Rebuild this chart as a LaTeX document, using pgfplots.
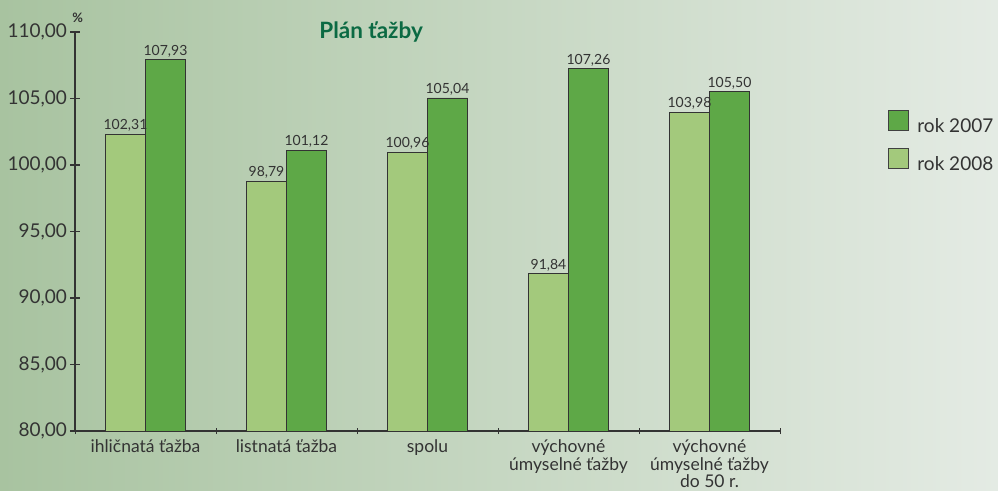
\documentclass[border=0pt]{standalone}
\usepackage{fontspec}
\setmainfont{Lato}
\usepackage{pgfplots}
\pgfplotsset{compat=1.18}

\definecolor{bgleft}{RGB}{168,195,160}
\definecolor{bgright}{RGB}{228,235,228}
\definecolor{lightbar}{HTML}{A3C97C}
\definecolor{darkbar}{HTML}{5EA847}
\definecolor{titlegreen}{HTML}{0B6A43}
\definecolor{txt}{HTML}{333333}

\begin{document}
\begin{tikzpicture}
\fill[left color=bgleft, right color=bgright] (0,0) rectangle (998pt,490pt);
\useasboundingbox (0,0) rectangle (998pt,490pt);
\begin{axis}[
  at={(75pt,59pt)}, anchor=south west,
  scale only axis, width=705pt, height=399pt,
  clip=false,
  ybar=0pt, bar width=40pt,
  xmin=-0.5, xmax=4.5, ymin=80, ymax=110,
  xtick={0,1,2,3,4},
  xticklabels={ihličnatá ťažba, listnatá ťažba, spolu,
    výchovné\\úmyselné ťažby, výchovné\\úmyselné ťažby\\do 50 r.},
  minor xtick={-0.5,0.5,1.5,2.5,3.5,4.5},
  ytick={80,85,90,95,100,105,110},
  axis x line=bottom, axis y line=left,
  axis line style={-, txt, line width=1.2pt},
  tick align=center, major tick length=9pt, minor tick length=6pt,
  x tick style={draw=none}, minor x tick style={draw=txt, line width=0.8pt},
  y tick style={draw=txt, line width=1.2pt},
  /pgf/number format/assume math mode=true,
  /pgf/number format/.cd, fixed, precision=2, zerofill, use comma, 1000 sep={},
  /pgfplots/.cd,
  yticklabel style={font=\fontsize{19pt}{22pt}\selectfont, text=txt},
  xticklabel style={font=\fontsize{17.5pt}{17.5pt}\selectfont, text=txt, align=center, yshift=-1pt},
  nodes near coords,
  nodes near coords style={font=\fontsize{14pt}{16pt}\selectfont, text=txt, inner sep=2pt},
  title={Plán ťažby},
  title style={at={(axis description cs:0.42,0.985)}, anchor=center,
    font=\bfseries\fontsize{22.5pt}{25pt}\selectfont, text=titlegreen},
  reverse legend,
  legend style={at={(1.148,0.81)}, anchor=north west, draw=none, fill=none,
    font=\fontsize{19pt}{22pt}\selectfont, text=txt, row sep=12pt},
  legend cell align=left,
  legend image code/.code={\draw[#1,draw=black!75] (0pt,-4pt) rectangle (20pt,16pt);
    \path (27pt,0pt);},
]
\addplot[fill=lightbar, draw=txt, line width=0.9pt]
  coordinates {(0,102.31) (1,98.79) (2,100.96) (3,91.84) (4,103.98)};
\addlegendentry{rok 2008}
\addplot[fill=darkbar, draw=txt, line width=0.9pt]
  coordinates {(0,107.93) (1,101.12) (2,105.04) (3,107.26) (4,105.50)};
\addlegendentry{rok 2007}
\node[anchor=south, font=\bfseries\fontsize{13pt}{14pt}\selectfont, text=txt]
  at (rel axis cs:0.004,1.015) {\%};
\end{axis}
\end{tikzpicture}
\end{document}
